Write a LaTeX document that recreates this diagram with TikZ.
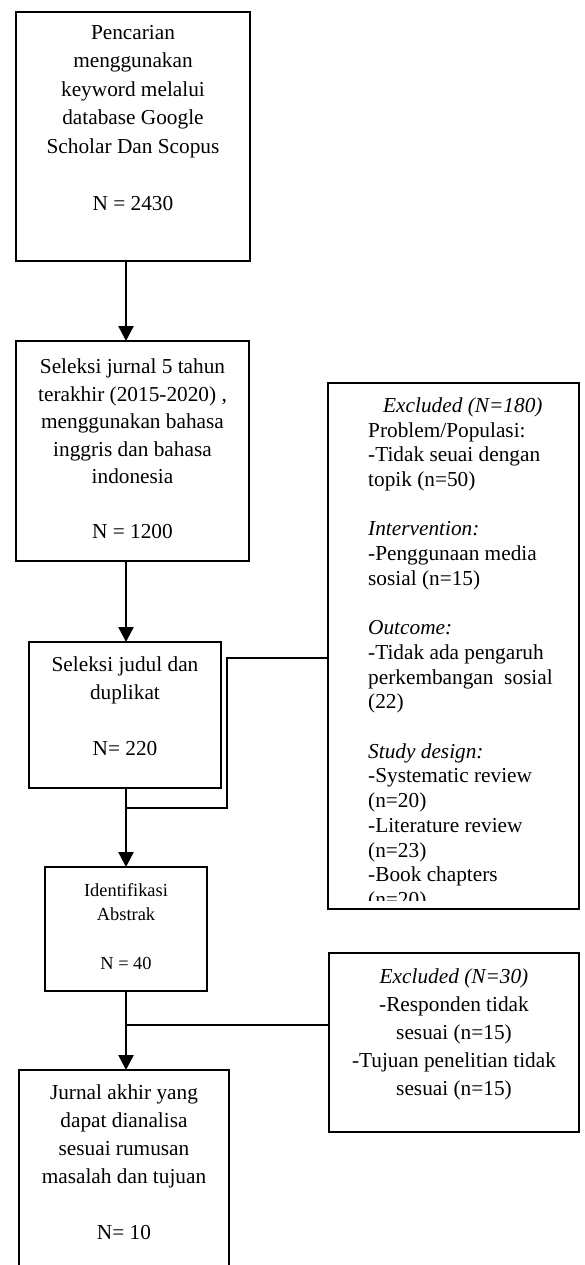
\documentclass[tikz,border=0pt]{standalone}
\usepackage{fontspec}
\setmainfont{Liberation Serif}
\usetikzlibrary{arrows.meta}
\begin{document}
\begin{tikzpicture}[x=1pt,y=-1pt,
  box/.style={draw, line width=1.3pt, rectangle, inner sep=0pt, outer sep=0pt},
  txt/.style={anchor=north, inner sep=0pt, align=center},
  arr/.style={line width=2.5pt, -{Triangle[length=15pt,width=15pt]}},
  link/.style={line width=1.3pt}]
\useasboundingbox (0,0) rectangle (584,1265);
\clip (0,0) rectangle (584,1265);
\fill[white] (0,0) rectangle (584,1265);

% boxes
\node[box, minimum width=234, minimum height=249] (b1) at (133,136.5) {};
\node[box, minimum width=233, minimum height=220] (b2) at (132.5,451) {};
\node[box, minimum width=192, minimum height=146] (b3) at (125,715) {};
\node[box, minimum width=162, minimum height=124] (b4) at (126,929) {};
\node[box, minimum width=210, minimum height=230] (b5) at (124,1185) {};
\node[box, minimum width=251, minimum height=526] (r1) at (453.5,646) {};
\node[box, minimum width=250, minimum height=179] (r2) at (454,1042.5) {};

% texts
\node[txt, font=\fontsize{21.3}{28.5}\selectfont] (t1) at (133,25)
  {Pencarian\\menggunakan\\keyword melalui\\database Google\\Scholar Dan Scopus\\[28.5pt]N = 2430};
\node[txt, font=\fontsize{21.3}{27.5}\selectfont] (t2) at (132.5,359)
  {Seleksi jurnal 5 tahun\\terakhir (2015-2020) ,\\menggunakan bahasa\\inggris dan bahasa\\indonesia\\[27.5pt]N = 1200};
\node[txt, font=\fontsize{21.3}{28}\selectfont] (t3) at (125,657)
  {Seleksi judul dan\\duplikat\\[28pt]N= 220};
\node[txt, font=\fontsize{18.4}{24.5}\selectfont] (t4) at (126,883)
  {Identifikasi\\Abstrak\\[24.5pt]N = 40};
\node[txt, font=\fontsize{21.3}{28}\selectfont] (t5) at (124,1085)
  {Jurnal akhir yang\\dapat dianalisa\\sesuai rumusan\\masalah dan tujuan\\[28pt]N= 10};
\begin{scope}
\clip (328,383) rectangle (579,900);
\node[anchor=north west, inner sep=0pt, align=left, font=\fontsize{21.3}{24.7}\selectfont] (t6) at (368,397.5)
  {\hspace*{15pt}\textit{Excluded (N=180)}\\
   Problem/Populasi:\\
   -Tidak seuai dengan\\
   topik (n=50)\\[24.7pt]
   \textit{Intervention:}\\
   -Penggunaan media\\
   sosial (n=15)\\[24.7pt]
   \textit{Outcome:}\\
   -Tidak ada pengaruh\\
   perkembangan\ \ sosial\\
   (22)\\[24.7pt]
   \textit{Study design:}\\
   -Systematic review\\
   (n=20)\\
   -Literature review\\
   (n=23)\\
   -Book chapters\\
   (n=20)};
\end{scope}
\node[txt, font=\fontsize{21.3}{28}\selectfont] (t7) at (454,969)
  {\textit{Excluded (N=30)}\\-Responden tidak\\sesuai (n=15)\\-Tujuan penelitian tidak\\sesuai (n=15)};

% connectors
\coordinate (ax) at (126,0);
\coordinate (j1) at (126,808);
\coordinate (k1) at (227,808);
\coordinate (k2) at (227,658);
\coordinate (j2) at (126,1025);
\draw[link] (j1) -- (k1) -- (k2) -- (r1.west |- k2);
\draw[link] (j2) -- (r2.west |- j2);
\draw[arr] (b1.south -| ax) -- (b2.north -| ax);
\draw[arr] (b2.south -| ax) -- (b3.north -| ax);
\draw[arr] (b3.south -| ax) -- (b4.north -| ax);
\draw[arr] (b4.south -| ax) -- (b5.north -| ax);
\end{tikzpicture}
\end{document}
